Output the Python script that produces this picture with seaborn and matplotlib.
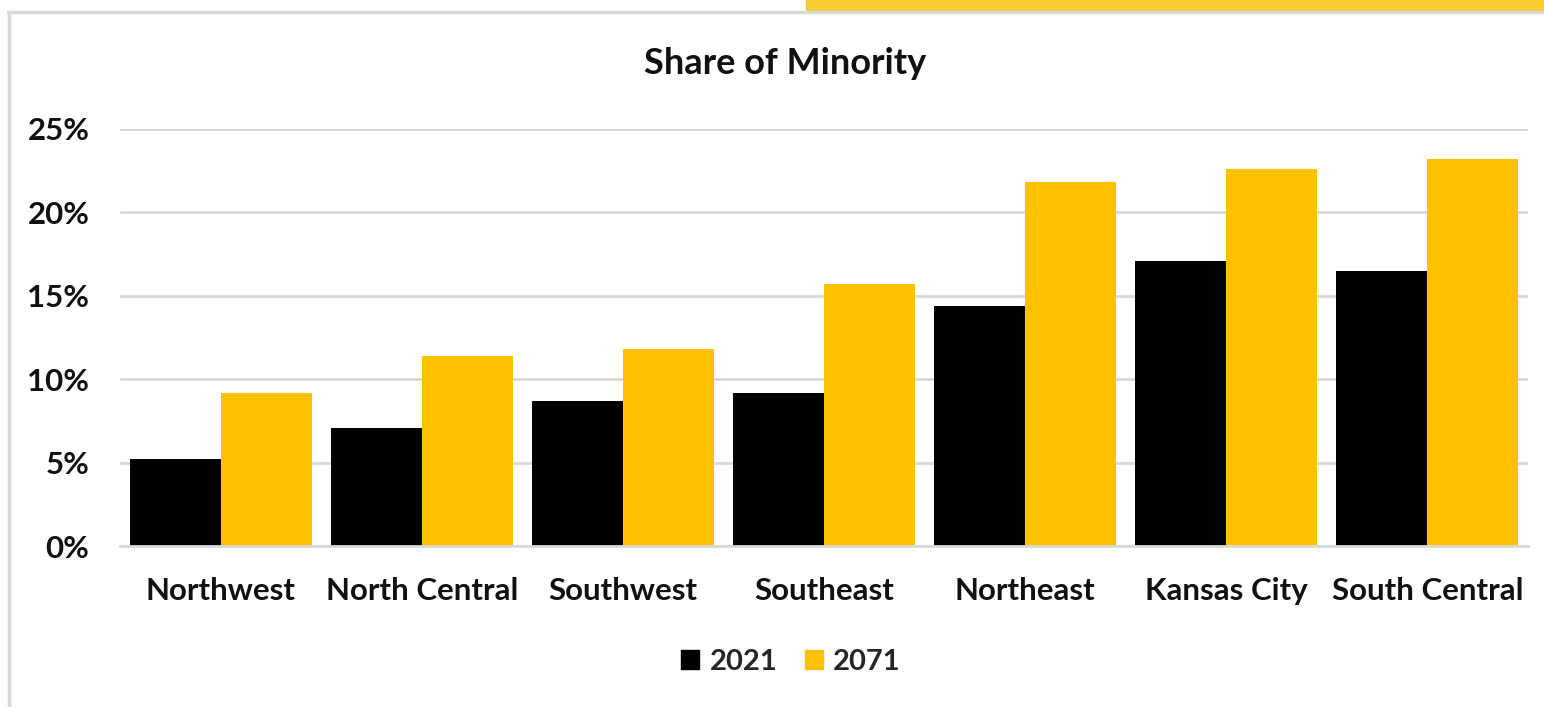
import matplotlib
matplotlib.use("Agg")
import matplotlib.pyplot as plt
import matplotlib.patches as mpatches
import seaborn as sns
import pandas as pd
from matplotlib.ticker import FuncFormatter, MultipleLocator

regions = ["Northwest", "North Central", "Southwest", "Southeast",
           "Northeast", "Kansas City", "South Central"]
share_2021 = [5.2, 7.1, 8.7, 9.2, 14.4, 17.1, 16.5]
share_2071 = [9.2, 11.4, 11.8, 15.7, 21.8, 22.6, 23.2]
years = ["2021", "2071"]
colors = ["#000000", "#FFC000"]

df = pd.DataFrame({
    "Region": regions * 2,
    "Year": [years[0]] * len(regions) + [years[1]] * len(regions),
    "Share": share_2021 + share_2071,
})

sns.set_theme(style="white")
plt.rcParams["font.family"] = ["Lato", "DejaVu Sans"]

fig = plt.figure(figsize=(15.44, 7.07), dpi=100)

# Frame around the chart area and the accent strip at the top
fig.patches.append(mpatches.Rectangle((806 / 1544, 1 - 10 / 707), 1 - 806 / 1544, 10 / 707,
                                      transform=fig.transFigure, color="#F5CD30", zorder=0))
fig.lines.append(plt.Line2D([8 / 1544, 1], [1 - 12 / 707, 1 - 12 / 707],
                            transform=fig.transFigure, color="#D9D9D9", lw=2.5))
fig.lines.append(plt.Line2D([9 / 1544, 9 / 1544], [0, 1 - 12 / 707],
                            transform=fig.transFigure, color="#D9D9D9", lw=2.5))

ax = fig.add_axes([120 / 1544, 1 - 546 / 707, (1528 - 120) / 1544, (546 - 129) / 707])
sns.barplot(data=df, x="Region", y="Share", hue="Year", palette=colors,
            width=0.905, saturation=1, ax=ax, legend=False, linewidth=0)

ax.set_ylim(0, 25)
ax.set_xlim(-0.5, len(regions) - 0.5)
ax.yaxis.set_major_locator(MultipleLocator(5))
ax.yaxis.set_major_formatter(FuncFormatter(lambda v, _: f"{v:.0f}%"))
ax.grid(axis="y", color="#D9D9D9", lw=2)
ax.set_axisbelow(True)
for s in ["top", "right", "left"]:
    ax.spines[s].set_visible(False)
ax.spines["bottom"].set_color("#D9D9D9")
ax.spines["bottom"].set_linewidth(2)
ax.set_xlabel("")
ax.set_ylabel("")
ax.tick_params(axis="y", length=0, pad=22, labelsize=22.5)
ax.tick_params(axis="x", length=0, pad=22, labelsize=22.5)
for lab in ax.get_xticklabels() + ax.get_yticklabels():
    lab.set_fontweight("bold")
    lab.set_color("#111111")

fig.text(785 / 1544, 1 - 64 / 707, "Share of Minority", ha="center", va="center",
         fontsize=26, fontweight="bold", color="#111111")

handles = [mpatches.Patch(color=c, label=y) for c, y in zip(colors, years)]
fig.legend(handles=handles, loc="center", bbox_to_anchor=(791 / 1544, 1 - 662 / 707),
           ncol=2, frameon=False, prop={"weight": "bold", "size": 21},
           handlelength=0.62, handleheight=0.62, handletextpad=0.35, columnspacing=0.95)

fig.savefig("out.png", dpi=100)
